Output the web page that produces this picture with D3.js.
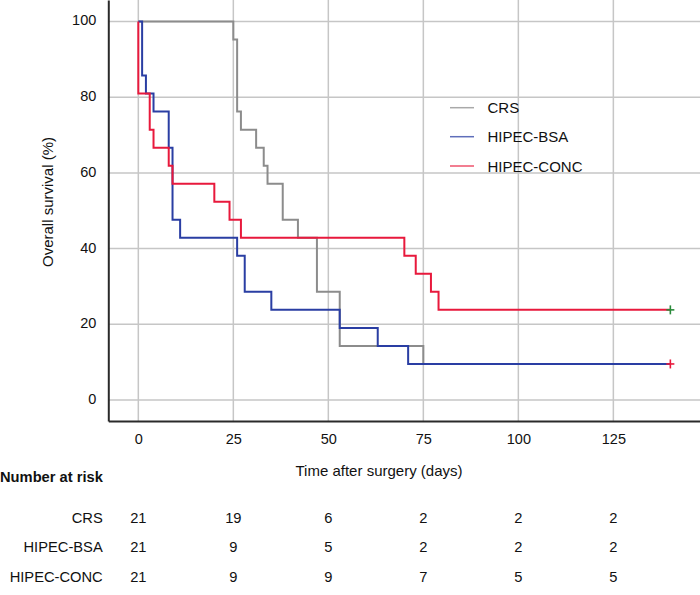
<!DOCTYPE html>
<html>
<head>
<meta charset="utf-8">
<script src="https://cdn.jsdelivr.net/npm/d3@7"></script>
<style>
  html, body { margin: 0; padding: 0; background: #fff; }
  svg { display: block; }
  text { font-family: "Liberation Sans", Arial, Helvetica, sans-serif; fill: #111; }
</style>
</head>
<body>
<svg id="chart" width="700" height="595"></svg>
<script>
// ---- Data ----
const seriesNames = ["CRS", "HIPEC-BSA", "HIPEC-CONC"];
const crsTimes = [0, 25, 26, 27, 31, 33, 34, 38, 42, 47, 53, 75, 140];
const crsSurv  = [100, 95.24, 76.19, 71.43, 66.67, 61.90, 57.14, 47.62, 42.86, 28.57, 14.29, 9.52, 9.52];
const bsaTimes = [0, 1, 2, 4, 8, 9, 11, 26, 28, 35, 53, 63, 71, 140];
const bsaSurv  = [100, 85.71, 80.95, 76.19, 66.67, 47.62, 42.86, 38.10, 28.57, 23.81, 19.05, 14.29, 9.52, 9.52];
const concTimes = [0, 0, 3, 4, 8, 9, 20, 24, 27, 70, 73, 77, 79, 140];
const concSurv  = [100, 80.95, 71.43, 66.67, 61.90, 57.14, 52.38, 47.62, 42.86, 38.10, 33.33, 28.57, 23.81, 23.81];
const censorTimes = [140, 140];
const censorSurv = [23.81, 9.52];

const xTicks = [0, 25, 50, 75, 100, 125];
const yTicks = [0, 20, 40, 60, 80, 100];
const riskTimes = [0, 25, 50, 75, 100, 125];
const riskCRS  = [21, 19, 6, 2, 2, 2];
const riskBSA  = [21, 9, 5, 2, 2, 2];
const riskCONC = [21, 9, 9, 7, 5, 5];

// ---- Styles ----
const colors = { "CRS": "#8c8c8c", "HIPEC-BSA": "#2a3ea3", "HIPEC-CONC": "#e8193c" };
const censorColors = ["#2a8a3a", "#e8193c"];
const gridColor = "#c6c6c6";

const svg = d3.select("#chart");
const x = d3.scaleLinear().domain([-7.9, 147.8]).range([108.3, 700]);
const y = d3.scaleLinear().domain([-5.55, 105.68]).range([421, 0]);

// Gridlines
svg.append("g").selectAll("line").data(xTicks).join("line")
  .attr("x1", d => x(d)).attr("x2", d => x(d))
  .attr("y1", 0).attr("y2", y(-5.55))
  .attr("stroke", gridColor).attr("stroke-width", 1.5);
svg.append("g").selectAll("line").data(yTicks).join("line")
  .attr("x1", x(-7.9)).attr("x2", 700)
  .attr("y1", d => y(d)).attr("y2", d => y(d))
  .attr("stroke", gridColor).attr("stroke-width", 1.5);

// Axes (lines only, labels custom)
const xAxis = d3.axisBottom(x).tickValues(xTicks).tickSize(0).tickPadding(0);
const yAxis = d3.axisLeft(y).tickValues(yTicks).tickSize(0).tickPadding(0);
const gx = svg.append("g").attr("transform", `translate(0,${y(-5.55)})`).call(xAxis);
gx.select(".domain").attr("stroke", "#2a2a2a").attr("stroke-width", 2);
gx.selectAll(".tick text").attr("font-size", 14.5).attr("dy", null)
  .attr("y", 18).attr("dominant-baseline", "central").attr("fill", "#111")
  .style("font-family", "Liberation Sans, Arial, sans-serif");
const gy = svg.append("g").attr("transform", `translate(${x(-7.9)},0)`).call(yAxis);
gy.select(".domain").attr("stroke", "#2a2a2a").attr("stroke-width", 2);
gy.selectAll(".tick text").attr("font-size", 14.5).attr("dy", null)
  .attr("x", -12).attr("y", -1.5).attr("dominant-baseline", "central").attr("fill", "#111")
  .style("font-family", "Liberation Sans, Arial, sans-serif");

// Axis titles
svg.append("text").attr("x", 379).attr("y", 470.5)
  .attr("text-anchor", "middle").attr("dominant-baseline", "central")
  .attr("font-size", 15).text("Time after surgery (days)");
svg.append("text").attr("transform", `translate(47.5,202) rotate(-90)`)
  .attr("text-anchor", "middle").attr("dominant-baseline", "central")
  .attr("font-size", 15).text("Overall survival (%)");

// KM curves
const line = d3.line().x(d => x(d[0])).y(d => y(d[1])).curve(d3.curveStepAfter);
const series = [
  { name: "CRS", t: crsTimes, s: crsSurv },
  { name: "HIPEC-BSA", t: bsaTimes, s: bsaSurv },
  { name: "HIPEC-CONC", t: concTimes, s: concSurv }
];
series.forEach(sr => {
  const pts = sr.t.map((t, i) => [t, sr.s[i]]);
  svg.append("path").datum(pts).attr("d", line)
    .attr("fill", "none").attr("stroke", colors[sr.name])
    .attr("stroke-width", 2).attr("stroke-linejoin", "miter");
});

// Censor marks
censorTimes.forEach((t, i) => {
  const cx = x(t), cy = y(censorSurv[i]);
  const g = svg.append("g").attr("stroke", censorColors[i]).attr("stroke-width", 1.6);
  g.append("line").attr("x1", cx - 4).attr("x2", cx + 4).attr("y1", cy).attr("y2", cy);
  g.append("line").attr("x1", cx).attr("x2", cx).attr("y1", cy - 4.5).attr("y2", cy + 4.5);
});

// Legend
const legY = [107.7, 136.7, 166];
seriesNames.forEach((n, i) => {
  svg.append("line").attr("x1", 450).attr("x2", 474)
    .attr("y1", legY[i]).attr("y2", legY[i])
    .attr("stroke", colors[n]).attr("stroke-width", 1.5).attr("stroke-opacity", 0.75);
  svg.append("text").attr("x", 487.5).attr("y", legY[i])
    .attr("dominant-baseline", "central").attr("font-size", 15).text(n);
});

// Number at risk table
svg.append("text").attr("x", 0).attr("y", 476.7)
  .attr("dominant-baseline", "central").attr("font-size", 14.7)
  .attr("font-weight", "bold").text("Number at risk");
const rows = [
  { name: "CRS", v: riskCRS, yy: 518.3 },
  { name: "HIPEC-BSA", v: riskBSA, yy: 547.3 },
  { name: "HIPEC-CONC", v: riskCONC, yy: 577.3 }
];
rows.forEach(r => {
  svg.append("text").attr("x", 102.7).attr("y", r.yy)
    .attr("text-anchor", "end").attr("dominant-baseline", "central")
    .attr("font-size", 14.7).text(r.name);
  riskTimes.forEach((t, i) => {
    svg.append("text").attr("x", x(t)).attr("y", r.yy)
      .attr("text-anchor", "middle").attr("dominant-baseline", "central")
      .attr("font-size", 14.7).text(r.v[i]);
  });
});
</script>
</body>
</html>
